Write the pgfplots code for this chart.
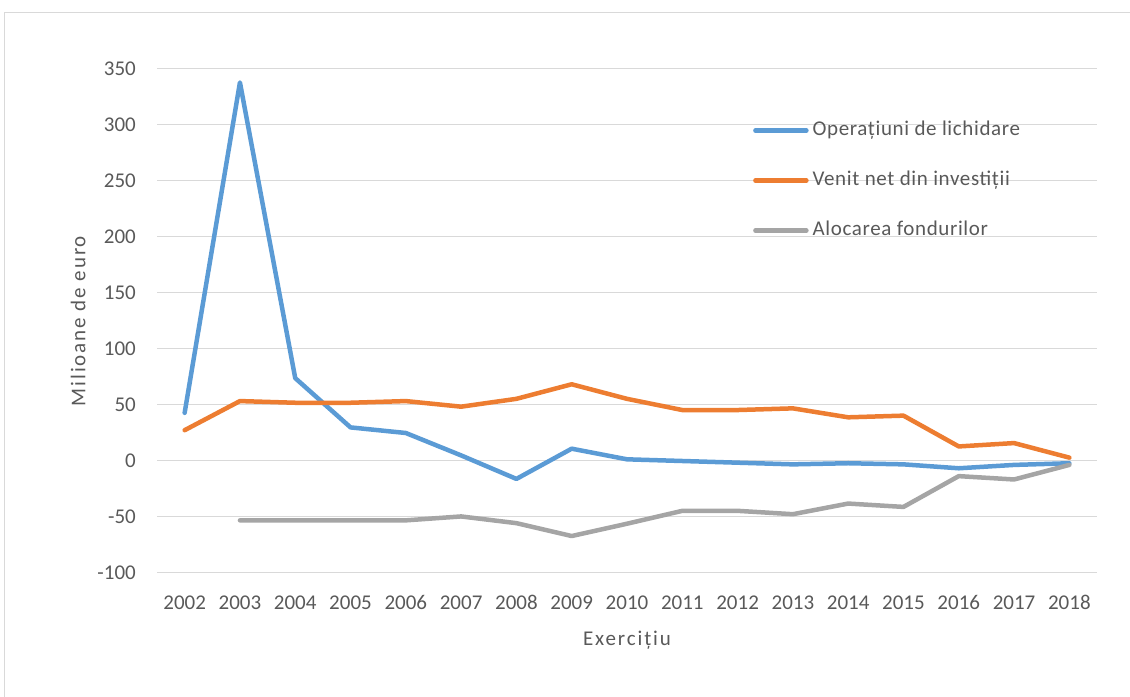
\documentclass[border=0pt]{standalone}
\usepackage{fontspec}
\setmainfont{Carlito}
\newfontfamily\spaced[LetterSpace=9]{Carlito}
\newfontfamily\legspaced[LetterSpace=3]{Carlito}
\usepackage{pgfplots}
\pgfplotsset{compat=1.18}
\definecolor{cblue}{HTML}{5B9BD5}
\definecolor{corange}{HTML}{ED7D31}
\definecolor{cgray}{HTML}{A5A5A5}
\definecolor{ctext}{HTML}{595959}
\definecolor{cgrid}{HTML}{D9D9D9}
\begin{document}
\begin{tikzpicture}
\useasboundingbox (0,0) rectangle (1130bp,697bp);
\draw[cgrid, line width=1bp] (4.5bp,0) -- (4.5bp,684bp) -- (1130bp,684bp);
\begin{axis}[
  at={(157bp,124bp)}, anchor=south west,
  scale only axis, width=940bp, height=504bp,
  xmin=-0.5, xmax=16.5, ymin=-100, ymax=350,
  ytick={-100,-50,0,50,100,150,200,250,300,350},
  xtick={0,1,2,3,4,5,6,7,8,9,10,11,12,13,14,15,16},
  xticklabels={2002,2003,2004,2005,2006,2007,2008,2009,2010,2011,2012,2013,2014,2015,2016,2017,2018},
  ymajorgrids, grid style={draw=cgrid, line width=1bp},
  axis line style={draw=none}, major tick length=0pt, tick style={draw=none},
  /pgf/number format/assume math mode=true,
  ticklabel style={font=\fontsize{21bp}{25bp}\selectfont, text=ctext, inner sep=0pt},
  yticklabel style={anchor=east, xshift=-21bp},
  xticklabel style={anchor=base, yshift=-36.5bp},
  xlabel={\spaced Exercițiu}, ylabel={\spaced Milioane de euro},
  every axis x label/.style={at={(axis description cs:0.5,-0.133)}, anchor=center,
    font=\fontsize{21bp}{25bp}\selectfont, text=ctext, inner sep=0pt},
  every axis y label/.style={at={(axis description cs:-0.084,0.5)}, rotate=90, anchor=center,
    font=\fontsize{21bp}{25bp}\selectfont, text=ctext, inner sep=0pt},
  legend style={at={(axis description cs:0.634,0.897)}, anchor=north west,
    draw=none, fill=none, inner sep=0pt, row sep=31bp,
    font=\fontsize{21bp}{25bp}\selectfont\legspaced, text=ctext,
    nodes={inner sep=0pt, text height=14bp, text depth=5bp},
    /tikz/every odd column/.append style={column sep=4bp}},
  legend cell align=left,
  legend image code/.code={\draw[#1, line cap=round] (0bp,0bp) -- (51bp,0bp);},
  every axis plot/.append style={line width=4.5bp, line join=round, line cap=round},
]
\addplot[cblue] coordinates {(0,43) (1,338) (2,74) (3,30) (4,25) (5,5) (6,-16) (7,11) (8,1.5) (9,0) (10,-1.5) (11,-3) (12,-2) (13,-3) (14,-6.5) (15,-3.5) (16,-2)};
\addlegendentry{Operațiuni de lichidare}
\addplot[corange] coordinates {(0,27.5) (1,53.5) (2,52) (3,52) (4,53.5) (5,48.5) (6,55.5) (7,68.5) (8,55.5) (9,45.5) (10,45.5) (11,47) (12,39) (13,40.5) (14,13) (15,16) (16,3)};
\addlegendentry{Venit net din investiții}
\addplot[cgray] coordinates {(1,-53) (2,-53) (3,-53) (4,-53) (5,-49.5) (6,-55.5) (7,-67) (8,-56) (9,-44.5) (10,-44.5) (11,-47.5) (12,-38) (13,-41) (14,-13.5) (15,-16.5) (16,-3.5)};
\addlegendentry{Alocarea fondurilor}
\end{axis}
\end{tikzpicture}
\end{document}
